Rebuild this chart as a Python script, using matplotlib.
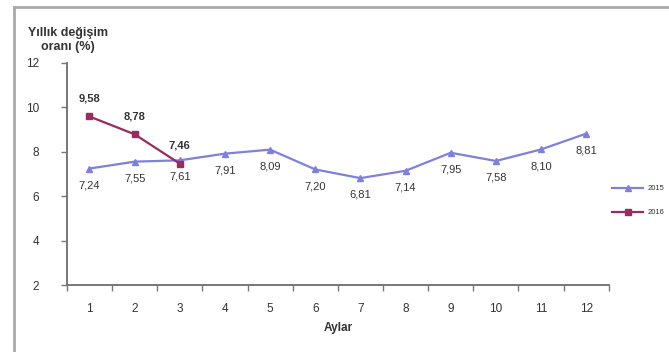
import matplotlib.pyplot as plt
from matplotlib.lines import Line2D

plt.rcParams['font.family'] = ['Liberation Sans', 'DejaVu Sans']

months = [1, 2, 3, 4, 5, 6, 7, 8, 9, 10, 11, 12]
rate_2015 = [7.24, 7.55, 7.61, 7.91, 8.09, 7.20, 6.81, 7.14, 7.95, 7.58, 8.10, 8.81]
months_2016 = [1, 2, 3]
rate_2016 = [9.58, 8.78, 7.46]
y_ticks = [2, 4, 6, 8, 10, 12]

c15 = '#7f80dc'
c16 = '#9b2a5e'
txt = '#333333'


def fmt(v):
    return f"{v:.2f}".replace('.', ',')


fig = plt.figure(figsize=(6.69, 3.52), dpi=100)
ax = fig.add_axes([0.1, 0.19, 0.81, 0.632])

ax.plot(months, rate_2015, color=c15, lw=1.6, marker='^', ms=4, label='2015')
ax.plot(months_2016, rate_2016, color=c16, lw=1.6, marker='s', ms=4.5, label='2016')

for m, v in zip(months, rate_2015):
    ax.annotate(fmt(v), (m, v), xytext=(0, -12), textcoords='offset points',
                ha='center', va='center', fontsize=8, color=txt)
for m, v in zip(months_2016, rate_2016):
    ax.annotate(fmt(v), (m, v), xytext=(0, 13), textcoords='offset points',
                ha='center', va='center', fontsize=8, color=txt, fontweight='bold')

ax.set_xlim(0.5, 12.5)
ax.set_ylim(2, 12)
ax.set_yticks(y_ticks)
ax.set_xticks(months)
ax.set_xticklabels([str(m) for m in months])
ax.set_xticks([m + 0.5 for m in [0] + months], minor=True)
ax.tick_params(axis='x', which='major', length=0, pad=13, labelsize=8.5, labelcolor=txt)
ax.tick_params(axis='x', which='minor', length=4, width=1, color='#777777', direction='out')
ax.tick_params(axis='y', length=4, width=1, color='#777777', pad=16, labelsize=8.5, labelcolor=txt)

for s in ['top', 'right']:
    ax.spines[s].set_visible(False)
for s in ['left', 'bottom']:
    ax.spines[s].set_color('#777777')
    ax.spines[s].set_linewidth(1.4)

ax.set_xlabel('Aylar', fontsize=8.5, fontweight='bold', color=txt, labelpad=5)
fig.text(0.102, 0.886, 'Yıllık değişim\noranı (%)', ha='center', va='center',
         fontsize=9, fontweight='bold', color=txt, linespacing=1.25)

ax.legend(loc='center left', bbox_to_anchor=(0.905, 0.43), bbox_transform=fig.transFigure,
          frameon=False, fontsize=5.5, handlelength=4, labelspacing=2.2,
          labelcolor=txt, handletextpad=0.6)

# grey frame along the top and left edges
fig.add_artist(Line2D([0.021, 0.021], [0, 0.98], transform=fig.transFigure,
                      color='#aaaaaa', lw=2))
fig.add_artist(Line2D([0.021, 1], [0.98, 0.98], transform=fig.transFigure,
                      color='#aaaaaa', lw=2))

fig.savefig('out.png', dpi=100, facecolor='white')
